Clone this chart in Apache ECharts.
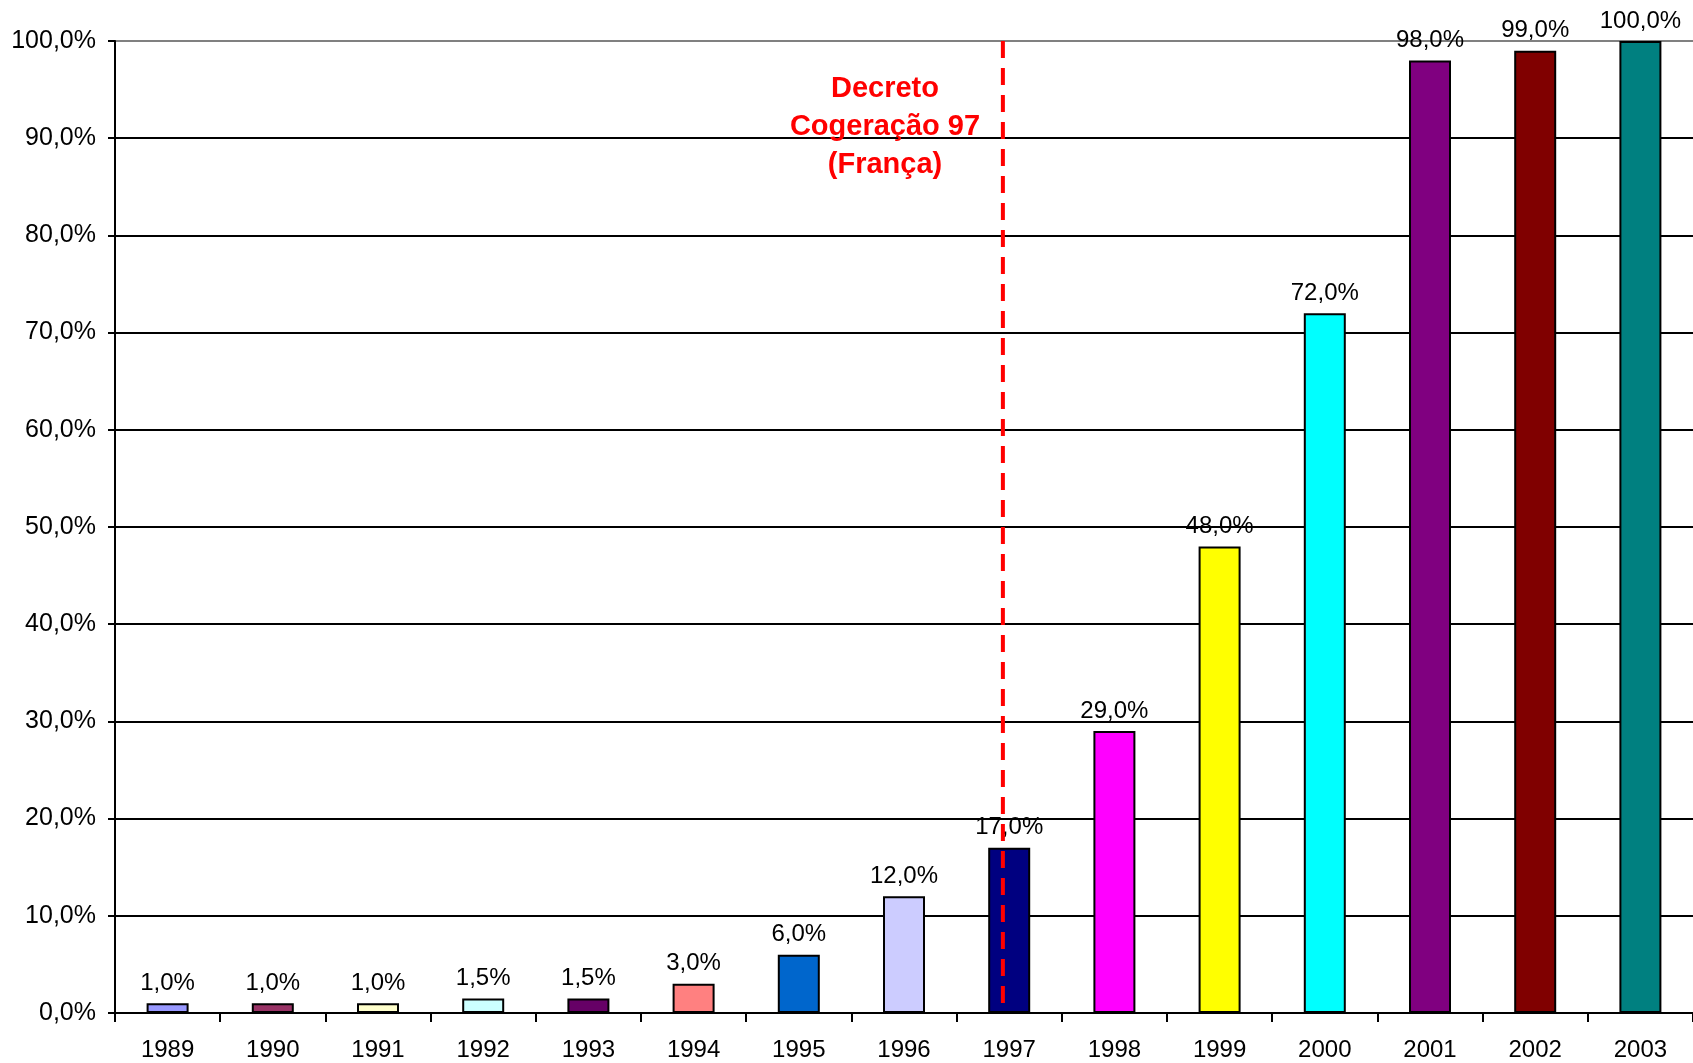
<!DOCTYPE html>
<html>
<head>
<meta charset="utf-8">
<script src="https://cdn.jsdelivr.net/npm/echarts@6/dist/echarts.min.js"></script>
<style>
html,body{margin:0;padding:0;background:#fff;}
#c{width:1693px;height:1063px;}
</style>
</head>
<body>
<div id="c"></div>
<script>
const years = ['1989','1990','1991','1992','1993','1994','1995','1996','1997','1998','1999','2000','2001','2002','2003'];
const values = [1.0, 1.0, 1.0, 1.5, 1.5, 3.0, 6.0, 12.0, 17.0, 29.0, 48.0, 72.0, 98.0, 99.0, 100.0];
const barColors = ['#9999FF','#993366','#FFFFCC','#CCFFFF','#660066','#FF8080','#0066CC','#CCCCFF','#000080','#FF00FF','#FFFF00','#00FFFF','#800080','#800000','#008080'];
// decree marker: position in category units (0 = left edge of first category), drawn top to bottom
const decreeX = 8.44;
const decreeLine = [[decreeX, 100], [decreeX, 0.5]];
const annotationLines = ['Decreto', 'Cogeração 97', '(França)'];

const fmt = v => v.toFixed(1).replace('.', ',') + '%';
const FONT = 'Liberation Sans, Arial, sans-serif';

const chart = echarts.init(document.getElementById('c'), null, {renderer: 'canvas'});
chart.setOption({
  animation: false,
  backgroundColor: '#ffffff',
  grid: {left: 115, width: 1582, top: 41, bottom: 50, containLabel: false},
  xAxis: [{
    type: 'category',
    data: years,
    boundaryGap: true,
    axisLine: {lineStyle: {color: '#000', width: 2}},
    axisTick: {show: true, alignWithLabel: false, length: 9, lineStyle: {color: '#000', width: 2}},
    axisLabel: {color: '#000', fontSize: 24, fontFamily: FONT, margin: 25, interval: 0}
  }, {
    type: 'value',
    min: 0, max: 15,
    show: false
  }],
  yAxis: {
    type: 'value',
    min: 0, max: 100, interval: 10,
    axisLine: {show: true, lineStyle: {color: '#000', width: 2}},
    axisTick: {show: true, length: 7, lineStyle: {color: '#000', width: 2}},
    axisLabel: {color: '#000', fontSize: 25, fontFamily: FONT, margin: 19, formatter: v => fmt(v)},
    splitLine: {show: true, lineStyle: {color: ['#000','#000','#000','#000','#000','#000','#000','#000','#000','#000','#808080'], width: 2}}
  },
  series: [{
    type: 'bar',
    data: values.map((v, i) => ({value: v, itemStyle: {color: barColors[i]}})),
    barWidth: 42,
    itemStyle: {borderColor: '#000', borderWidth: 2},
    label: {
      show: true, position: 'top', distance: 8,
      color: '#000', fontSize: 24, fontFamily: FONT,
      formatter: p => fmt(p.value)
    },
    z: 2
  }, {
    type: 'line',
    xAxisIndex: 1,
    data: decreeLine,
    symbol: 'none',
    lineStyle: {color: '#FF0000', width: 4, type: [17, 10]},
    z: 5,
    silent: true
  }],
  graphic: [{
    type: 'text',
    x: 885, y: 70,
    style: {
      text: annotationLines.join('\n'),
      fill: '#FF0000',
      font: 'bold 29px "Liberation Sans", Arial, sans-serif',
      lineHeight: 38,
      align: 'center',
      verticalAlign: 'top'
    },
    z: 10
  }]
});
</script>
</body>
</html>
